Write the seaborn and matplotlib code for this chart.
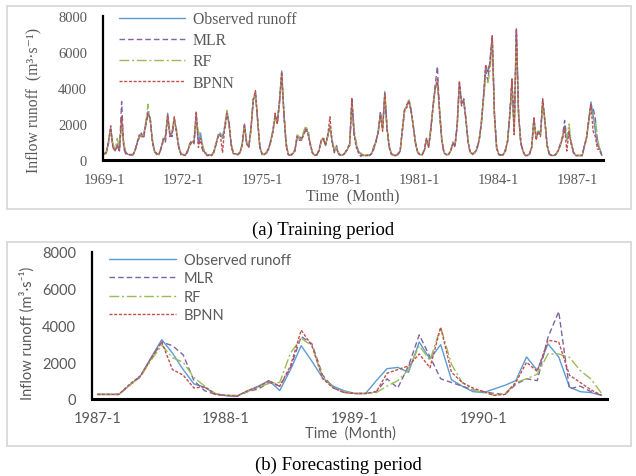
import matplotlib
matplotlib.use('Agg')
import matplotlib.pyplot as plt
import numpy as np
import seaborn as sns
from matplotlib.patches import Rectangle


# ---- training period, monthly, 1969-1 .. 1987-12 ----
train_obs = [
    350, 400, 1000, 1800, 800, 500, 900, 600, 2300, 800, 400, 300,        # 1969
    300, 250, 500, 900, 1300, 1400, 1300, 2000, 2700, 2300, 1100, 500,    # 1970
    350, 300, 700, 1100, 1300, 2600, 1400, 1500, 2300, 1600, 700, 350,    # 1971
    300, 250, 500, 800, 1000, 1000, 2600, 900, 1500, 700, 400, 250,       # 1972
    300, 250, 400, 900, 1300, 1500, 1200, 1800, 2700, 2000, 800, 350,     # 1973
    350, 300, 400, 900, 2000, 900, 700, 1800, 3300, 3800, 2200, 700,      # 1974
    350, 300, 400, 600, 1100, 1600, 2400, 2200, 3300, 4950, 2500, 900,    # 1975
    300, 250, 350, 500, 1300, 1200, 1100, 1500, 1800, 1500, 900, 400,     # 1976
    250, 300, 500, 1100, 1200, 800, 1400, 1900, 1000, 500, 700, 350,      # 1977
    250, 300, 400, 600, 900, 3400, 1500, 800, 500, 350, 250, 250,         # 1978
    250, 250, 350, 700, 1000, 1600, 2600, 1700, 3800, 1800, 700, 350,     # 1979
    250, 250, 300, 500, 1700, 2800, 3000, 3300, 2700, 1900, 900, 450,     # 1980
    300, 300, 500, 1200, 700, 1700, 3000, 4000, 4300, 2700, 1100, 400,    # 1981
    300, 300, 500, 900, 800, 1900, 4300, 3200, 3300, 2200, 1000, 400,     # 1982
    350, 400, 600, 1100, 2000, 3500, 5200, 4900, 5400, 6900, 2500, 700,   # 1983
    300, 250, 300, 500, 1100, 2500, 4300, 1500, 7300, 2500, 1000, 500,    # 1984
    250, 250, 350, 700, 2300, 1200, 1600, 1400, 3300, 2200, 800, 350,     # 1985
    250, 250, 300, 500, 800, 1200, 1900, 1100, 1600, 900, 450, 250,       # 1986
    250, 250, 250, 750, 1250, 2250, 3230, 2500, 1600, 820, 640, 270,      # 1987
]
train_mlr = [
    300, 450, 900, 1700, 700, 600, 800, 500, 3250, 600, 300, 300,
    300, 300, 400, 1000, 1200, 1500, 1200, 1900, 2500, 2400, 1000, 450,
    300, 350, 600, 1200, 1000, 2400, 1500, 1300, 2200, 1700, 800, 300,
    300, 300, 400, 900, 1100, 900, 2400, 1100, 1000, 500, 500, 250,
    250, 300, 450, 800, 1400, 1400, 1300, 1700, 2400, 2100, 700, 350,
    300, 300, 450, 800, 1900, 1000, 800, 1700, 3400, 3700, 2300, 800,
    300, 350, 350, 700, 1000, 1700, 2500, 2000, 3200, 4600, 2700, 800,
    300, 300, 300, 600, 1200, 1300, 1200, 1400, 1700, 1700, 800, 400,
    300, 250, 600, 1000, 1100, 900, 1300, 1800, 1100, 400, 800, 300,
    300, 250, 450, 700, 800, 3300, 1300, 1000, 400, 200, 300, 250,
    300, 250, 400, 600, 1100, 1500, 2700, 1800, 3600, 1700, 800, 300,
    300, 250, 350, 500, 1600, 2700, 3100, 3200, 2800, 1800, 1000, 400,
    300, 250, 600, 1100, 800, 1800, 2900, 4200, 5200, 2500, 1000, 400,
    300, 300, 450, 1000, 700, 2000, 4200, 3000, 3400, 2300, 900, 400,
    300, 400, 700, 1000, 2100, 3400, 5000, 4400, 5600, 6800, 2600, 600,
    300, 300, 300, 600, 1000, 2600, 4500, 1600, 7100, 2600, 900, 500,
    250, 300, 300, 800, 2200, 1300, 1500, 1500, 3200, 2100, 900, 300,
    250, 200, 350, 500, 900, 1300, 2200, 1200, 1500, 1000, 400, 250,
    250, 250, 250, 750, 1200, 2200, 3000, 2900, 2300, 1000, 500, 250,
]
train_rf = [
    350, 350, 1100, 1600, 900, 600, 1200, 700, 2000, 900, 400, 300,
    300, 300, 500, 900, 1300, 1300, 1400, 2100, 3100, 2200, 1200, 500,
    350, 300, 700, 1000, 1400, 2400, 1500, 1600, 2200, 1600, 800, 400,
    300, 300, 500, 800, 1000, 1100, 2200, 1600, 1300, 800, 400, 300,
    300, 250, 400, 1000, 1300, 1400, 1300, 1900, 2750, 1900, 900, 400,
    350, 300, 450, 900, 1800, 1000, 800, 1600, 3300, 3700, 2300, 800,
    350, 300, 450, 600, 1000, 1700, 2300, 2100, 3200, 4700, 2600, 1000,
    300, 300, 350, 500, 1400, 1300, 1100, 1600, 1900, 1500, 900, 400,
    300, 300, 500, 1000, 1300, 900, 1300, 1800, 1100, 600, 700, 400,
    300, 300, 400, 600, 900, 3100, 1800, 900, 500, 400, 300, 250,
    300, 250, 400, 800, 1000, 1500, 2500, 1700, 3600, 1900, 800, 350,
    300, 250, 300, 500, 1600, 2700, 3000, 3400, 2800, 1900, 900, 450,
    300, 300, 500, 1100, 800, 1700, 3000, 3900, 4100, 2800, 1200, 400,
    300, 300, 500, 900, 900, 1800, 4000, 3300, 3200, 2300, 1000, 450,
    350, 400, 600, 1100, 1900, 3300, 4600, 4300, 5000, 6500, 2400, 700,
    300, 250, 300, 500, 1100, 2400, 3900, 1700, 6400, 2600, 1000, 500,
    250, 250, 350, 700, 2100, 1300, 1700, 1500, 3100, 2300, 800, 350,
    250, 250, 300, 500, 800, 1200, 1700, 1200, 2000, 1000, 500, 250,
    250, 250, 250, 750, 1200, 2100, 2900, 2300, 2200, 1200, 600, 250,
]
train_bpnn = [
    350, 400, 1000, 1900, 700, 500, 800, 500, 2400, 700, 400, 300,
    300, 250, 500, 900, 1400, 1300, 1300, 2000, 2600, 2300, 1000, 500,
    350, 300, 700, 1100, 1300, 2500, 1300, 1500, 2400, 1500, 700, 350,
    300, 250, 500, 800, 1000, 1000, 2700, 700, 1200, 600, 400, 250,
    300, 250, 400, 900, 1300, 1400, 400, 1800, 2600, 2000, 800, 350,
    350, 300, 400, 900, 2000, 900, 700, 1800, 3300, 3850, 2200, 700,
    350, 300, 400, 600, 1100, 1500, 2600, 2000, 3300, 4900, 2500, 900,
    300, 250, 350, 500, 1300, 1100, 1100, 1400, 1700, 1400, 900, 400,
    250, 300, 500, 1100, 1200, 800, 1400, 2400, 900, 500, 600, 350,
    250, 300, 400, 600, 900, 3450, 1400, 700, 400, 300, 250, 250,
    250, 250, 350, 700, 1000, 1600, 2500, 1600, 3700, 1800, 700, 350,
    250, 250, 300, 500, 1700, 2800, 2900, 3300, 2700, 1900, 900, 450,
    300, 300, 500, 1200, 700, 1700, 3000, 4000, 4500, 2700, 1100, 400,
    300, 300, 500, 900, 800, 1900, 4400, 3100, 3300, 2200, 1000, 400,
    350, 400, 600, 1100, 2000, 3500, 5300, 4900, 5400, 6900, 2500, 700,
    300, 250, 300, 500, 1100, 2500, 4500, 1400, 7300, 2500, 1000, 500,
    250, 250, 350, 700, 2400, 1100, 1600, 1300, 3400, 2200, 800, 350,
    250, 250, 300, 500, 800, 1200, 1800, 500, 1600, 900, 450, 250,
    250, 250, 250, 800, 1250, 2200, 3100, 1600, 1300, 600, 600, 250,
]

# ---- forecasting period, monthly, 1987-1 .. 1990-12 ----
test_obs = [
    250, 250, 250, 750, 1250, 2250, 3230, 2500, 1600, 820, 640, 270,
    180, 150, 450, 700, 1000, 460, 1600, 2900, 2050, 1140, 690, 450,
    300, 300, 1000, 1650, 1720, 1450, 3100, 2180, 2960, 1050, 700, 400,
    350, 550, 750, 1000, 2290, 1560, 3000, 2290, 650, 400, 350, 200,
]
test_mlr = [
    250, 250, 250, 750, 1200, 2200, 3100, 2900, 2400, 1000, 450, 250,
    200, 150, 400, 550, 900, 700, 1700, 3400, 3000, 1300, 600, 350,
    300, 300, 400, 1100, 600, 1800, 3490, 2300, 1100, 900, 700, 500,
    400, 300, 250, 800, 1100, 1000, 3360, 4760, 550, 700, 400, 200,
]
test_rf = [
    250, 250, 250, 750, 1200, 2100, 2940, 2250, 2000, 1170, 700, 300,
    200, 200, 400, 650, 850, 900, 2500, 3300, 2900, 1200, 600, 400,
    300, 300, 350, 700, 1000, 1600, 2900, 2100, 3900, 1900, 900, 500,
    350, 200, 300, 900, 1100, 1350, 2450, 2450, 2270, 1550, 1090, 300,
]
test_bpnn = [
    250, 250, 250, 800, 1250, 2200, 3100, 1600, 1300, 600, 660, 250,
    200, 150, 450, 650, 1000, 700, 1800, 3750, 2900, 1100, 600, 350,
    300, 300, 400, 1400, 1600, 1800, 2450, 1700, 3900, 1460, 900, 600,
    400, 200, 250, 900, 2000, 1500, 3200, 3100, 1300, 900, 500, 200,
]

names = ['Observed runoff', 'MLR', 'RF', 'BPNN']
train_labels = ['1969-1', '1972-1', '1975-1', '1978-1', '1981-1', '1984-1', '1987-1']
test_labels = ['1987-1', '1988-1', '1989-1', '1990-1']

colors = ['#5B9BD5', '#8064A2', '#9BBB59', '#C0504D']
linestyles = ['-', (0, (4, 2.2)), (0, (7, 2, 1.5, 2)), (0, (2.2, 1.2))]
GRAY = '#595959'


def draw_panel(ax, series, labels, label_step, font, fsize):
    x = np.arange(len(series[0])) + 0.5
    for name, vals, c, ls in zip(names, series, colors, linestyles):
        sns.lineplot(x=x, y=vals, ax=ax, color=c, linestyle=ls, lw=1.0, label=name)

    n = len(series[0])
    ax.set_xlim(0, n)
    ax.set_ylim(0, 8000)
    ax.set_yticks(range(0, 8001, 2000))
    ax.set_xticks(range(0, n + 1, 12))
    ax.set_xticklabels([])
    ax.set_xticks([i * label_step + 0.5 for i in range(len(labels))], minor=True)
    ax.set_xticklabels(labels, minor=True)
    ax.set_xlabel('')
    ax.set_ylabel('')

    for s in ['top', 'right']:
        ax.spines[s].set_visible(False)
    ax.spines['left'].set_linewidth(1.6)
    ax.spines['bottom'].set_linewidth(2.2)
    ax.spines['left'].set_color('black')
    ax.spines['bottom'].set_color('black')

    ax.tick_params(axis='x', which='major', direction='inout', length=6, width=1.6,
                   color='black')
    ax.tick_params(axis='x', which='minor', length=0, pad=9, labelsize=fsize,
                   labelcolor=GRAY, labelfontfamily=font)
    ax.tick_params(axis='y', direction='inout', length=5, width=1.4, color='black',
                   pad=9, labelsize=fsize, labelcolor=GRAY, labelfontfamily=font)


sns.set_style('white')
fig = plt.figure(figsize=(6.36, 4.77), dpi=100)

W, H = 636.0, 477.0
ax1 = fig.add_axes([103 / W, 1 - 161 / H, 500 / W, 144 / H])
ax2 = fig.add_axes([92 / W, 1 - 400 / H, 515 / W, 147 / H])

serif = ['Liberation Serif', 'DejaVu Serif']
sans = ['Lato', 'DejaVu Sans']

draw_panel(ax1, [train_obs, train_mlr, train_rf, train_bpnn], train_labels, 36, serif, 10.5)
draw_panel(ax2, [test_obs, test_mlr, test_rf, test_bpnn], test_labels, 12, sans, 10.5)

ax1.legend(loc='upper left', bbox_to_anchor=(119 / W, 1 - 12 / H), bbox_transform=fig.transFigure,
           frameon=False, prop={'family': serif, 'size': 11.3}, labelcolor=GRAY,
           handlelength=4.2, handletextpad=0.5, labelspacing=0.33, borderpad=0, borderaxespad=0)
ax2.legend(loc='upper left', bbox_to_anchor=(109 / W, 1 - 254 / H), bbox_transform=fig.transFigure,
           frameon=False, prop={'family': sans, 'size': 10.5}, labelcolor=GRAY,
           handlelength=4.6, handletextpad=0.55, labelspacing=0.3, borderpad=0, borderaxespad=0)

# axis titles
fig.text(33 / W, 1 - 100 / H, 'Inflow runoff  (m³·s⁻¹)', rotation=90, ha='center', va='center',
         family=serif, size=11.3, color=GRAY)
fig.text(353 / W, 1 - 196 / H, 'Time  (Month)', ha='center', va='center',
         family=serif, size=11.3, color=GRAY)
fig.text(27 / W, 1 - 333 / H, 'Inflow runoff (m³·s⁻¹)', rotation=90, ha='center', va='center',
         family=sans, size=10.5, color=GRAY)
fig.text(350 / W, 1 - 434 / H, 'Time  (Month)', ha='center', va='center',
         family=sans, size=10.5, color=GRAY)

# panel frames and captions
fig.patches.append(Rectangle((7 / W, 1 - 210 / H), 624 / W, 203 / H, transform=fig.transFigure,
                             fill=False, edgecolor='#d9d9d9', lw=1.3))
fig.patches.append(Rectangle((7 / W, 1 - 447 / H), 624 / W, 204 / H, transform=fig.transFigure,
                             fill=False, edgecolor='#d9d9d9', lw=1.3))
fig.text(323 / W, 1 - 230 / H, '(a) Training period', ha='center', va='center',
         family=serif, size=13.5, color='black')
fig.text(338 / W, 1 - 465 / H, '(b) Forecasting period', ha='center', va='center',
         family=serif, size=13.5, color='black')

fig.savefig('out.png', dpi=100)
